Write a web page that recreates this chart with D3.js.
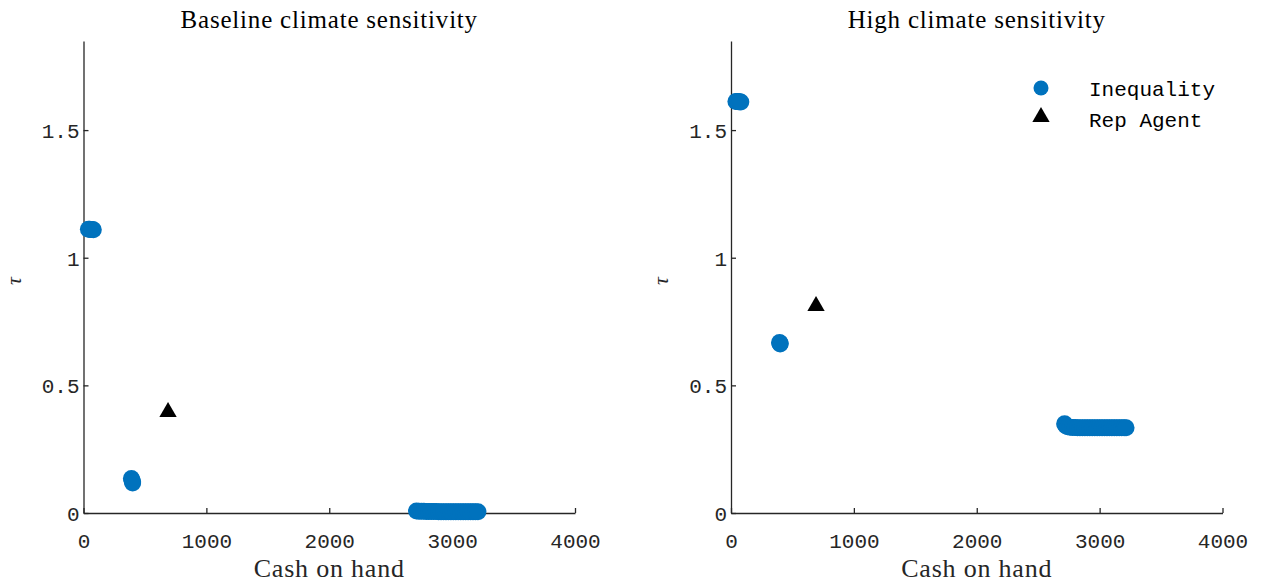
<!DOCTYPE html>
<html><head><meta charset="utf-8">
<script src="https://cdn.jsdelivr.net/npm/d3@7"></script>
<style>body{margin:0;background:#fff}</style>
</head><body>
<svg id="c" width="1261" height="583"></svg>
<script>
// ---- data ----
const panelTitles = ["Baseline climate sensitivity", "High climate sensitivity"];
const xTicks = [0, 1000, 2000, 3000, 4000];
const yTicks = [0, 0.5, 1, 1.5];
const yTickLabels = ["0", "0.5", "1", "1.5"];
const legendLabels = ["Inequality", "Rep Agent"];

// Inequality scatter, baseline
const ineqBaseX = [40, 50, 60, 70, 80, 390, 395, 400, 400,
  2710, 2730, 2750, 2770, 2790, 2810, 2830, 2850, 2870, 2890, 2910, 2930, 2950, 2970, 2990,
  3010, 3030, 3050, 3070, 3090, 3110, 3130, 3150, 3170, 3190, 3210];
const ineqBaseY = [1.112, 1.112, 1.111, 1.111, 1.110, 0.135, 0.128, 0.122, 0.118,
  0.008, 0.007, 0.007, 0.007, 0.006, 0.006, 0.006, 0.006, 0.006, 0.005, 0.005, 0.005, 0.005, 0.005, 0.005,
  0.005, 0.005, 0.005, 0.005, 0.005, 0.005, 0.005, 0.005, 0.005, 0.005, 0.005];
const repBaseX = [688];
const repBaseY = [0.40];

// Inequality scatter, high sensitivity
const ineqHighX = [40, 50, 60, 70, 80, 395, 400, 400,
  2715, 2725, 2740, 2760, 2780, 2800, 2820, 2840, 2860, 2880, 2900, 2920, 2940, 2960, 2980,
  3000, 3020, 3040, 3060, 3080, 3100, 3120, 3140, 3160, 3180, 3200, 3215];
const ineqHighY = [1.612, 1.612, 1.611, 1.611, 1.610, 0.668, 0.665, 0.662,
  0.350, 0.342, 0.338, 0.336, 0.335, 0.335, 0.334, 0.334, 0.334, 0.334, 0.334, 0.334, 0.334, 0.334, 0.334,
  0.334, 0.334, 0.334, 0.334, 0.334, 0.334, 0.334, 0.334, 0.334, 0.334, 0.334, 0.334];
const repHighX = [692];
const repHighY = [0.815];

// ---- drawing ----
const svg = d3.select("#c");
const blue = "#0072BD", axisCol = "#262626";
const mono = "'Liberation Mono', 'DejaVu Sans Mono', monospace";
const serif = "'Liberation Serif', 'DejaVu Serif', serif";

const panels = [
  {left: 83.5, title: panelTitles[0], ix: ineqBaseX, iy: ineqBaseY, rx: repBaseX, ry: repBaseY, legend: false},
  {left: 731, title: panelTitles[1], ix: ineqHighX, iy: ineqHighY, rx: repHighX, ry: repHighY, legend: true}
];
const plotW = 491.5, plotTop = 41, plotBottom = 513;

panels.forEach(p => {
  const x = d3.scaleLinear().domain([0, 4000]).range([p.left, p.left + plotW]);
  const y = d3.scaleLinear().domain([0, 1.849]).range([plotBottom, plotTop]);
  const g = svg.append("g");

  // axes
  const xa = g.append("g").attr("transform", `translate(0,${plotBottom})`)
    .call(d3.axisBottom(x).tickValues(xTicks).tickSizeInner(-5).tickSizeOuter(0).tickPadding(20).tickFormat(d3.format("d")));
  const ya = g.append("g").attr("transform", `translate(${p.left},0)`)
    .call(d3.axisLeft(y).tickValues(yTicks).tickSizeInner(-5).tickSizeOuter(0).tickPadding(4).tickFormat((d, i) => yTickLabels[i]));
  [xa, ya].forEach(a => {
    a.select(".domain").attr("stroke", axisCol).attr("stroke-width", 1.3);
    a.selectAll(".tick line").attr("stroke", axisCol).attr("stroke-width", 1.3);
    a.selectAll("text").attr("fill", axisCol).style("font-family", mono).style("font-size", "21px");
  });
  ya.selectAll("text").attr("dy", "0.35em");

  // title & labels
  g.append("text").attr("x", p.left + plotW / 2).attr("y", 28).attr("text-anchor", "middle")
    .style("font-family", serif).style("font-size", "25px").style("letter-spacing", "0.8px")
    .attr("fill", "#000").text(p.title);
  g.append("text").attr("x", p.left + plotW / 2).attr("y", 577).attr("text-anchor", "middle")
    .style("font-family", serif).style("font-size", "26px").style("letter-spacing", "0.8px")
    .attr("fill", "#262626").text("Cash on hand");
  g.append("text").attr("transform", `translate(${p.left - 63},${(plotTop + plotBottom) / 2 + 4}) rotate(-90)`)
    .attr("text-anchor", "middle").style("font-family", serif).style("font-style", "italic")
    .style("font-size", "22px").attr("fill", "#262626").text("τ");

  // inequality points
  g.append("g").selectAll("circle").data(p.ix.map((v, i) => [v, p.iy[i]])).join("circle")
    .attr("cx", d => x(d[0])).attr("cy", d => y(d[1])).attr("r", 8.5).attr("fill", blue);
  // rep agent
  const tri = d3.symbol().type(d3.symbolTriangle).size(130);
  g.append("g").selectAll("path").data(p.rx.map((v, i) => [v, p.ry[i]])).join("path")
    .attr("d", tri).attr("transform", d => `translate(${x(d[0])},${y(d[1]) + 1})`).attr("fill", "#000");

  if (p.legend) {
    const lg = g.append("g");
    lg.append("circle").attr("cx", 1041).attr("cy", 88).attr("r", 7.5).attr("fill", blue);
    lg.append("path").attr("d", tri).attr("transform", "translate(1041,117)").attr("fill", "#000");
    legendLabels.forEach((t, i) => {
      lg.append("text").attr("x", 1089).attr("y", 96 + i * 31).style("font-family", mono)
        .style("font-size", "21px").attr("fill", "#000").text(t);
    });
  }
});
</script>
</body></html>
